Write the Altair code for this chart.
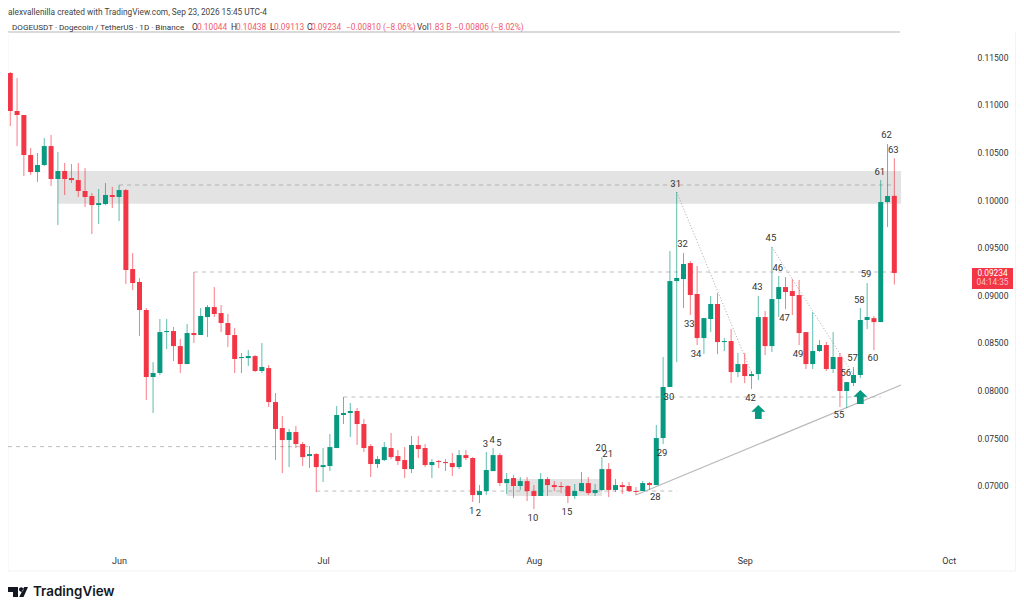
import altair as alt
import pandas as pd

first_day = "2026-05-16"

open_ = [
    .11334, .10935, .10893, .10473, .10294, .10368, .10567, .10221, .10305, .10231, .1021, .10095, .10042, .09947, .09958, .10053,
    .10032, .10105, .09275, .09139, .08845, .08141, .08183, .08613, .08624, .08466, .08277, .08603, .08582, .08771, .08876, .08813,
    .08708, .08582, .0834, .0834, .08361, .08204, .08235, .07878, .07605, .07479, .07563, .07437, .07311, .07332, .07195, .07206,
    .07395, .07742, .07763, .07784, .07647, .07416, .07227, .07269, .07395, .07311, .07269, .07174, .07427, .07395, .07216, .07258,
    .07248, .07237, .07195, .07321, .0729, .06901, .06943, .07153, .07321, .07027, .0708, .06996, .07048, .06943, .06891, .07069,
    .07006, .06996, .06996, .06891, .06943, .07027, .06922, .06954, .07174, .06954, .07006, .06996, .06943, .06943, .07027, .07006,
    .075, .08036, .09149, .0917, .09338, .09013, .0855, .0875, .08908, .08508, .08519, .08193, .08277, .08151, .08172, .08771,
    .08466, .0896, .09086, .09044, .09002, .08613, .08277, .08414, .08477, .08225, .08351, .07994, .08078, .08162, .0874, .0876,
    .08718, .09979, .10044,
]
high = [
    .11345, .11281, .10893, .10546, .10494, .10651, .10683, .10504, .10389, .10378, .10389, .10336, .10074, .10116, .10179, .10137,
    .10158, .10116, .09443, .09181, .08866, .08298, .0875, .0875, .08666, .0854, .08698, .09244, .08866, .08897, .09086, .08897,
    .08803, .08655, .08393, .08424, .08372, .08498, .08267, .07973, .07731, .07595, .07626, .07458, .07416, .07342, .07395, .07542,
    .07836, .07931, .07868, .07815, .077, .07437, .07311, .07458, .07553, .07374, .07405, .07521, .07521, .07437, .07279, .07269,
    .07279, .07342, .07374, .07374, .073, .07006, .07353, .07395, .07342, .07132, .07111, .0709, .0709, .07006, .07132, .0709,
    .07048, .07038, .07006, .07017, .07143, .0709, .07017, .073, .07237, .07069, .07038, .07038, .06985, .07048, .07038, .07637,
    .08351, .09464, .10084, .09443, .09359, .09307, .0876, .08992, .09023, .0855, .08645, .08393, .08393, .08204, .08992, .08834,
    .09506, .09202, .09191, .0917, .0916, .08613, .08824, .08529, .08508, .08613, .08393, .08088, .08246, .08866, .09128, .08782,
    .1021, .10588, .10438,
]
low = [
    .10777, .10567, .10252, .10263, .10189, .10357, .10147, .09737, .10053, .10179, .10032, .09926, .09643, .09748, .09947, .09916,
    .09779, .09118, .09055, .08571, .07899, .07763, .08162, .08435, .08309, .08183, .08277, .08498, .08582, .08561, .08771, .08613,
    .08456, .08183, .08183, .08256, .08193, .08183, .07826, .07269, .07132, .07195, .07395, .07206, .07185, .06933, .07038, .07153,
    .07395, .07647, .07511, .07427, .07353, .0709, .07185, .07258, .07279, .07216, .0708, .07132, .0729, .07195, .0708, .07185,
    .07153, .07101, .07174, .07269, .06828, .06817, .06901, .07153, .06996, .06912, .0687, .06954, .06838, .06754, .06891, .06891,
    .06943, .06922, .06817, .06859, .06943, .06901, .06891, .06943, .0688, .06933, .06912, .06933, .06901, .06943, .06954, .07006,
    .07437, .08036, .08298, .08866, .08792, .08477, .08382, .08613, .08382, .08414, .08078, .08141, .08078, .08015, .08109, .08372,
    .08403, .08771, .08855, .08792, .08477, .08225, .08225, .08403, .08204, .08183, .07826, .07815, .08046, .0813, .08645, .08424,
    .08718, .09716, .09113,
]
close = [
    .10935, .10893, .10473, .10294, .10368, .10567, .10221, .10305, .10221, .1021, .10095, .10032, .09947, .09968, .10053, .10032,
    .10105, .09265, .09128, .08845, .08141, .08183, .08613, .08624, .08466, .08277, .08603, .08582, .08782, .08876, .08803, .08708,
    .08582, .0833, .08351, .08361, .08204, .08246, .07878, .07595, .07479, .07563, .07437, .073, .07332, .07195, .07216, .07405,
    .07742, .07763, .07784, .07647, .07395, .07227, .07279, .07405, .073, .07258, .07174, .07427, .07384, .07216, .07248, .07248,
    .07237, .07195, .07321, .0729, .06901, .06943, .07164, .07321, .07027, .07069, .06996, .07048, .06943, .06891, .07069, .07006,
    .06985, .06985, .06891, .06943, .07027, .06922, .06954, .07174, .06954, .07006, .06985, .06943, .06933, .07027, .07006, .075,
    .08036, .09149, .09181, .09328, .09002, .0855, .0876, .08908, .08508, .08519, .08193, .08277, .08151, .08172, .08771, .08466,
    .0896, .09086, .09034, .08992, .08603, .08277, .08414, .08477, .08225, .08351, .07994, .08088, .08162, .0874, .08771, .08718,
    .09979, .10042, .09234,
]

wave_numbers = [1, 2, 3, 4, 5, 10, 15, 20, 21, 28, 29, 30, 31, 32, 33, 34, 42, 43, 45, 46, 47, 49, 55, 56, 57, 58, 59, 60, 61, 62, 63]
wave_prices = [
    .06733, .06712, .07437, .07479, .07448, .0666, .06723, .07395, .07332, .0688, .07342, .07931, .10168, .09538, .08698, .08382,
    .0792, .09086, .09601, .09286, .0876, .08382, .07742, .08183, .0834, .0895, .09223, .0834, .10294, .10683, .10525,
]

# flat levels: start, end, price
level_start = ["2026-05-15T16:00:00", "2026-06-01T00:00:00", "2026-06-12T00:00:00", "2026-07-04T00:00:00", "2026-06-30T00:00:00"]
level_end = ["2026-06-29T00:00:00", "2026-09-23T00:00:00", "2026-09-23T00:00:00", "2026-09-21T00:00:00", "2026-08-22T00:00:00"]
level_price = [.0741, .10158, .09244, .07931, .06943]

zone_start = ["2026-05-23T00:00:00", "2026-07-28T00:00:00"]
zone_end = ["2026-09-24T00:00:00", "2026-08-11T00:00:00"]
zone_top = [.10305, .07069]
zone_bottom = [.0996, .06891]

trend_start = ["2026-08-16T00:00:00", "2026-08-22T00:00:00", "2026-09-05T00:00:00"]
trend_end = ["2026-09-24T00:00:00", "2026-09-02T00:00:00", "2026-09-17T00:00:00"]
trend_from = [.06901, .10084, .09506]
trend_to = [.08057, .08183, .08162]

arrow_dates = ["2026-09-03T00:00:00", "2026-09-18T00:00:00"]
arrow_prices = [.07773, .07931]

price_ticks = [.07, .075, .08, .085, .09, .095, .10, .105, .11, .115]

GREEN = "#089981"
RED = "#f23645"
FONT = "Roboto"

candles = pd.DataFrame({"open": open_, "high": high, "low": low, "close": close})
candles["date"] = pd.date_range(first_day, periods=len(candles))
candles["side"] = ["up" if c >= o else "down" for o, c in zip(open_, close)]

waves = pd.DataFrame({"n": wave_numbers, "price": wave_prices})
waves["date"] = [candles["date"][n + 67] for n in wave_numbers]

levels = pd.DataFrame({"start": level_start, "end": level_end, "price": level_price})
zones = pd.DataFrame({"start": zone_start, "end": zone_end, "top": zone_top, "bottom": zone_bottom})
trends = pd.DataFrame({
    "id": [0, 1, 2, 0, 1, 2],
    "date": trend_start + trend_end,
    "price": trend_from + trend_to,
})
arrows = pd.DataFrame({"date": arrow_dates, "price": arrow_prices})
one = pd.DataFrame({"a": [0]})

# padding=0 because bars otherwise pad a continuous x scale by 5px
x_scale = alt.Scale(domain=["2026-05-15T16:00:00", "2026-10-03T20:00:00"], nice=False, padding=0)
y_scale = alt.Scale(domain=[.06303, .11765], nice=False, zero=False)


def X(field):
    return alt.X(f"{field}:T", scale=x_scale, title=None, axis=None)


def Y(field):
    return alt.Y(f"{field}:Q", scale=y_scale, title=None, axis=None)


side_color = alt.Color("side:N", scale=alt.Scale(domain=["up", "down"], range=[GREEN, RED]), legend=None)

zone_layer = alt.Chart(zones).mark_rect(color="#e3e3e3").encode(x=X("start"), x2="end:T", y=Y("top"), y2="bottom:Q")

level_layer = alt.Chart(levels).mark_rule(color="#8a8a8a", strokeWidth=0.8, strokeDash=[4, 4], opacity=0.7).encode(
    x=X("start"), x2="end:T", y=Y("price"))

trend_layer = alt.Chart(trends[trends["id"] == 0]).mark_line(color="#b9b9b9", strokeWidth=1.2).encode(
    x=X("date"), y=Y("price"))

dotted_layer = alt.Chart(trends[trends["id"] > 0]).mark_line(color="#a8a8a8", strokeWidth=1, strokeDash=[1, 2]).encode(
    x=X("date"), y=Y("price"), detail="id:N")

wick_layer = alt.Chart(candles).mark_rule(strokeWidth=1, opacity=0.65).encode(
    x=alt.X("date:T", scale=x_scale, title=None,
            axis=alt.Axis(tickCount="month", format="%b", grid=False, ticks=False, domain=False,
                          labelFont=FONT, labelFontSize=9, labelColor="#333333", labelPadding=4,
                          labelFlush=False, labelOverlap=False)),
    y=alt.Y("high:Q", scale=y_scale, title=None,
            axis=alt.Axis(orient="right", values=price_ticks, format=".5f", grid=False, ticks=False, domain=False,
                          labelFont=FONT, labelFontSize=8.5, labelColor="#333333", labelPadding=9)),
    y2="low:Q",
    color=side_color,
)

body_layer = alt.Chart(candles).mark_bar(size=5).encode(x=X("date"), y=Y("open"), y2="close:Q", color=side_color)

wave_layer = alt.Chart(waves).mark_text(font=FONT, fontSize=9.5, color="#333333", dx=-1).encode(
    x=X("date"), y=Y("price"), text="n:N")

arrow_path = "M0,-1L1,-0.05L0.48,-0.05L0.48,1L-0.48,1L-0.48,-0.05L-1,-0.05Z"
arrow_layer = alt.Chart(arrows).mark_point(shape=arrow_path, filled=True, size=196, color=GREEN, opacity=1).encode(
    x=X("date"), y=Y("price"))

tag_layer = alt.Chart(pd.DataFrame({"top": [.09286], "bottom": [.09065]})).mark_rect(color=RED).encode(
    x=alt.value(964), x2=alt.value(1005), y=Y("top"), y2="bottom:Q")


def label(text, x, y, color="#333333", size=8.3, weight="normal", align="left", font=FONT):
    return alt.Chart(one).mark_text(font=font, fontSize=size, color=color, fontWeight=weight, align=align, baseline="middle").encode(
        x=alt.value(x), y=alt.value(y), text=alt.value(text))


def hline(x1, x2, y, color):
    return alt.Chart(one).mark_rule(color=color, strokeWidth=1).encode(x=alt.value(x1), x2=alt.value(x2), y=alt.value(y))


def vline(x, y1, y2, color):
    return alt.Chart(one).mark_rule(color=color, strokeWidth=1).encode(x=alt.value(x), y=alt.value(y1), y2=alt.value(y2))


PINK = "#ef5a6a"
header = [
    label("alexvallenilla created with TradingView.com, Sep 23, 2026 15:45 UTC-4", 0, -19.5, "#444444"),
    label("DOGEUSDT · Dogecoin / TetherUS · 1D · Binance", 4, -4, "#333333", size=8.1),
    label("O", 184, -4), label("0.10044", 189, -4, PINK),
    label("H", 223, -4), label("0.10438", 228, -4, PINK),
    label("L", 262, -4), label("0.09113", 266, -4, PINK),
    label("C", 299, -4), label("0.09234", 303, -4, PINK),
    label("−0.00810 (−8.06%)", 338, -4, PINK),
    label("Vol", 409, -4), label("1.83 B", 420, -4, PINK),
    label("−0.00806 (−8.02%)", 446, -4, PINK),
    label("0.09234", 984.5, 242, "#ffffff", align="center"),
    label("04:14:35", 984.5, 251, "#ffc2c7", align="center"),
]

frame = [
    hline(0, 892, 0, "#b5b5b5"),
    vline(0, 0, 539, "#f3f3f3"),
    vline(1007.5, 0, 539, "#f3f3f3"),
    hline(0, 1008, 539, "#f3f3f3"),
]

logo_path = (
    "M-1,-0.5L0,-0.5L0,0.5L-0.5,0.5L-0.5,0L-1,0Z"
    "M0.1,-0.25a0.22,0.22 0 1,0 0.44,0a0.22,0.22 0 1,0 -0.44,0Z"
    "M0.62,-0.5L1,-0.5L0.55,0.5L0.12,0.5Z"
)
logo = [
    alt.Chart(one).mark_point(shape=logo_path, filled=True, size=400, color="#131722", opacity=1).encode(
        x=alt.value(10), y=alt.value(560)),
    label("TradingView", 25, 560, "#131722", size=13.4, weight=600, font="Inter"),
]

chart = alt.layer(
    *frame,
    zone_layer,
    level_layer,
    trend_layer,
    dotted_layer,
    wick_layer,
    body_layer,
    wave_layer,
    arrow_layer,
    tag_layer,
    *header,
    *logo,
).resolve_axis(
    x="independent", y="independent"
).properties(
    width=960,
    height=520,
    autosize=alt.AutoSizeParams(type="none"),
    padding={"left": 0, "top": 24, "right": 48, "bottom": 50},
    background="white",
).configure_view(stroke=None)

chart.save("out.html", embed_options={"renderer": "svg", "actions": False})
